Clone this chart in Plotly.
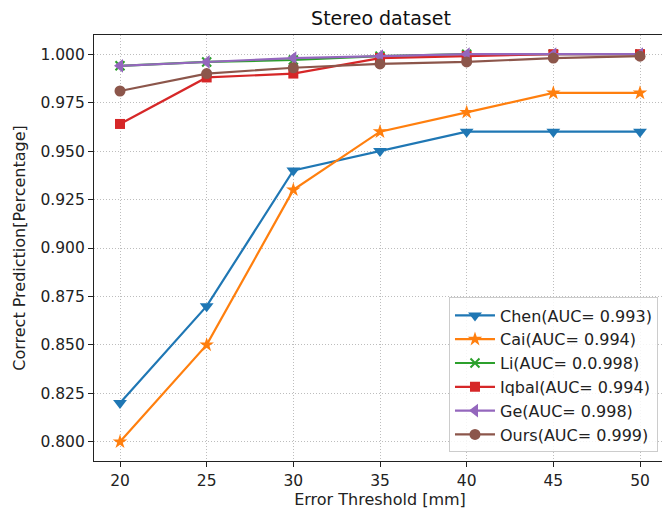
import plotly.graph_objects as go

thresholds = [20, 25, 30, 35, 40, 45, 50]

chen = [0.820, 0.870, 0.940, 0.950, 0.960, 0.960, 0.960]
cai = [0.800, 0.850, 0.930, 0.960, 0.970, 0.980, 0.980]
li = [0.994, 0.996, 0.997, 0.999, 1.000, 1.000, 1.000]
iqbal = [0.964, 0.988, 0.990, 0.998, 0.999, 1.000, 1.000]
ge = [0.994, 0.996, 0.998, 0.999, 1.000, 1.000, 1.000]
ours = [0.981, 0.990, 0.993, 0.995, 0.996, 0.998, 0.999]

series = [
    ("Chen(AUC= 0.993)", chen, "#1f77b4", "triangle-down", 12),
    ("Cai(AUC= 0.994)", cai, "#ff7f0e", "star", 11),
    ("Li(AUC= 0.0.998)", li, "#2ca02c", "x-thin-open", 9),
    ("Iqbal(AUC= 0.994)", iqbal, "#d62728", "square", 10),
    ("Ge(AUC= 0.998)", ge, "#9467bd", "triangle-left", 12),
    ("Ours(AUC= 0.999)", ours, "#8c564b", "circle", 11),
]

yticks = [0.800, 0.825, 0.850, 0.875, 0.900, 0.925, 0.950, 0.975, 1.000]
xticks = [20, 25, 30, 35, 40, 45, 50]

fig = go.Figure()
for name, vals, color, sym, size in series:
    marker = dict(symbol=sym, size=size, color=color)
    if sym == "x-thin-open":
        marker["line"] = dict(color=color, width=2)
    fig.add_trace(go.Scatter(
        x=thresholds, y=vals, name=name, mode="lines+markers",
        line=dict(color=color, width=2.2), marker=marker,
    ))

font = "DejaVu Sans"
grid = "#bdbdbd"
W, H = 662, 502  # page body adds an 8px offset
fig.update_layout(
    width=W, height=H,
    margin=dict(l=86, r=4, t=27, b=49, autoexpand=False),
    paper_bgcolor="white", plot_bgcolor="white",
    font=dict(family=font, size=15, color="#222"),
    title=dict(text="Stereo dataset", x=373/W, xanchor="center",
               y=1 - 10/H, yanchor="middle", yref="container",
               font=dict(size=19, family=font, color="#111")),
    xaxis=dict(range=[18.5, 51.5], tickvals=xticks, ticks="outside", ticklen=5,
               tickcolor="#222", showline=True, linecolor="#222", linewidth=1.2,
               mirror=True, showgrid=True, gridcolor=grid, griddash="1px,2px",
               gridwidth=1, zeroline=False, automargin=False,
               tickfont=dict(size=15.5),
               title=dict(text="Error Threshold [mm]", standoff=5,
                          font=dict(size=16, family=font))),
    yaxis=dict(range=[0.7901, 1.0099], tickvals=yticks, tickformat=".3f",
               ticks="outside", ticklen=5, tickcolor="#222",
               showline=True, linecolor="#222", linewidth=1.2, mirror=True,
               showgrid=True, gridcolor=grid, griddash="1px,2px", gridwidth=1,
               zeroline=False, automargin=False, tickfont=dict(size=15.5),
               title=dict(text="Correct Prediction[Percentage]", standoff=10,
                          font=dict(size=16, family=font))),
    legend=dict(x=0.986, y=0.02, xanchor="right", yanchor="bottom",
                bgcolor="rgba(255,255,255,0.85)", bordercolor="#cccccc",
                borderwidth=1, font=dict(size=16, family=font),
                itemwidth=40, tracegroupgap=0),
    showlegend=True,
)

fig.write_html("out.html")
